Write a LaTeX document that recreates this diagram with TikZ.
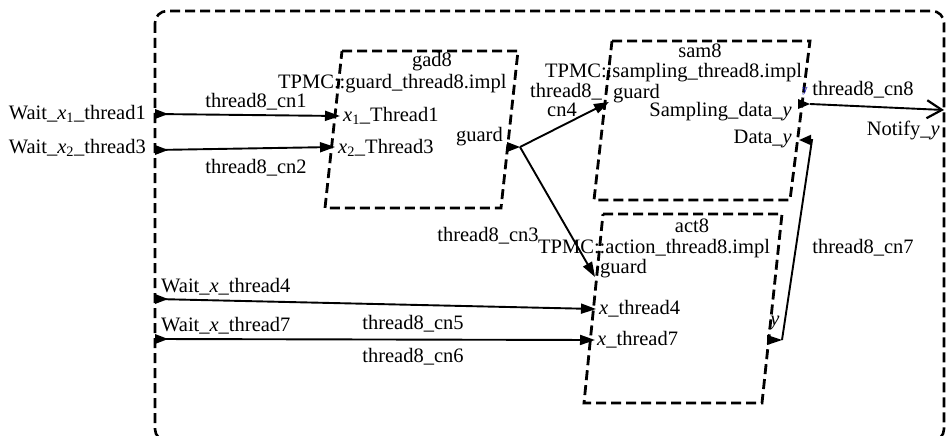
\documentclass[tikz,border=0pt]{standalone}
\usepackage{fontspec}
\setmainfont{Liberation Serif}
\usetikzlibrary{arrows.meta}
% italic x with a subscript index, in the text font
\newcommand{\xsub}[1]{\textit{x}\textsubscript{#1}}

\begin{document}
\begin{tikzpicture}[x=1pt,y=-1pt,
  every node/.style={font=\fontsize{20.5}{24}\selectfont, inner sep=0pt},
  frame/.style={line width=2.6pt, dash pattern=on 10pt off 5pt, rounded corners=12pt},
  procbox/.style={line width=2.8pt, dash pattern=on 10pt off 5pt, line join=miter},
  conn/.style={line width=1.9pt, -{Triangle[length=15pt,width=10pt]}},
  outconn/.style={line width=1.9pt, -{Straight Barb[length=15pt,width=18pt,line width=2.2pt]}},
  portmark/.style={fill=black},
  tinylbl/.style={font=\fontsize{11}{12}\selectfont, text=blue!70!black},
]
\useasboundingbox (0,0) rectangle (946,436);

% enclosing thread component
\draw[frame] (155,11) rectangle (944,441);

% subprogram boxes (slanted)
\draw[procbox] (342,51) -- (518,51) -- (501,208) -- (325,208) -- cycle;
\draw[procbox] (612,41) -- (810,41) -- (790,200) -- (594,200) -- cycle;
\draw[procbox] (603,214) -- (782,214) -- (762,403) -- (584,403) -- cycle;

% ports
\coordinate (w1) at (155,114);
\coordinate (w2) at (155,150);
\coordinate (w4) at (155,299);
\coordinate (w7) at (155,339);
\coordinate (gx1) at (340,116);
\coordinate (gx2) at (335,147);
\coordinate (gguard) at (507,147);
\coordinate (gguardout) at (520,147);
\coordinate (sguard) at (609,102);
\coordinate (sout) at (798,104);
\coordinate (soutend) at (810,104);
\coordinate (sdata) at (799,140);
\coordinate (aguard) at (595,277);
\coordinate (ax4) at (596,309);
\coordinate (ax7) at (595,340);
\coordinate (ay) at (767,340);
\coordinate (ayout) at (782,340);
\coordinate (notify) at (944,110);
\coordinate (bend7) at (812,140);

% external port labels
\node[anchor=east] (lw1) at (146,114) {Wait\_\xsub{1}\_thread1};
\node[anchor=east] (lw2) at (146,148) {Wait\_\xsub{2}\_thread3};
\node[anchor=west] (lw4) at (161,287) {Wait\_\textit{x}\_thread4};
\node[anchor=west] (lw7) at (161,326) {Wait\_\textit{x}\_thread7};
\node[anchor=east] (lnotify) at (940,130) {Notify\_\textit{y}};

% gad8
\node (gname) at (432,62) {gad8};
\node[anchor=west] (gtype) at (278,84) {TPMC::guard\_thread8.impl};
\node[anchor=west] (gpx1) at (343,116) {\xsub{1}\_Thread1};
\node[anchor=west] (gpx2) at (338,148) {\xsub{2}\_Thread3};
\node[anchor=east] (gpguard) at (503,137) {guard};

% sam8
\node (sname) at (700,51) {sam8};
\node[anchor=west] (stype) at (545,73) {TPMC::sampling\_thread8.impl};
\node[anchor=west] (spguard) at (613,94) {guard};
\node[anchor=east] (spout) at (792,112) {Sampling\_data\_\textit{y}};
\node[anchor=east] (spdata) at (792,139) {Data\_\textit{y}};
\node[tinylbl] (spy) at (805,91) {y};

% act8
\node (aname) at (692,226) {act8};
\node[anchor=west] (atype) at (538,249) {TPMC::action\_thread8.impl};
\node[anchor=west] (apguard) at (600,269) {guard};
\node[anchor=west] (apx4) at (599,309) {\textit{x}\_thread4};
\node[anchor=west] (apx7) at (597,340) {\textit{x}\_thread7};
\node (apy) at (775,323) {\textit{y}};

% connections
\draw[conn] (w1) -- (gx1);
\draw[conn] (w2) -- (gx2);
\draw[conn] (gguardout) -- (sguard);
\draw[conn] (gguardout) -- (aguard);
\draw[conn] (w4) -- (ax4);
\draw[conn] (w7) -- (ax7);
\draw[outconn] (soutend) -- (notify);
\draw[line width=1.9pt, -{Triangle[length=12pt,width=10pt]}] (ayout) -- (bend7) -- (sdata);

% port markers
\foreach \p in {w1,w2,w4,w7} {
  \fill[portmark, shift={(\p)}] (0,-5) -- (13,0) -- (0,5) -- cycle;
}
\fill[portmark, shift={(gguard)}] (0,-5) -- (13,0) -- (0,5) -- cycle;
\fill[portmark, shift={(sout)}] (0,-5) -- (12,0) -- (0,5) -- cycle;
\fill[portmark, shift={(ay)}] (0,-5) -- (15,0) -- (0,5) -- cycle;

% connection labels
\node (c1) at (256,102) {thread8\_cn1};
\node (c2) at (256,168) {thread8\_cn2};
\node (c3) at (488,236) {thread8\_cn3};
\node (c4a) at (566,92) {thread8\_};
\node (c4b) at (562,110) {cn4};
\node (c5) at (413,324) {thread8\_cn5};
\node (c6) at (413,357) {thread8\_cn6};
\node (c7) at (863,248) {thread8\_cn7};
\node (c8) at (863,90) {thread8\_cn8};
\end{tikzpicture}
\end{document}
